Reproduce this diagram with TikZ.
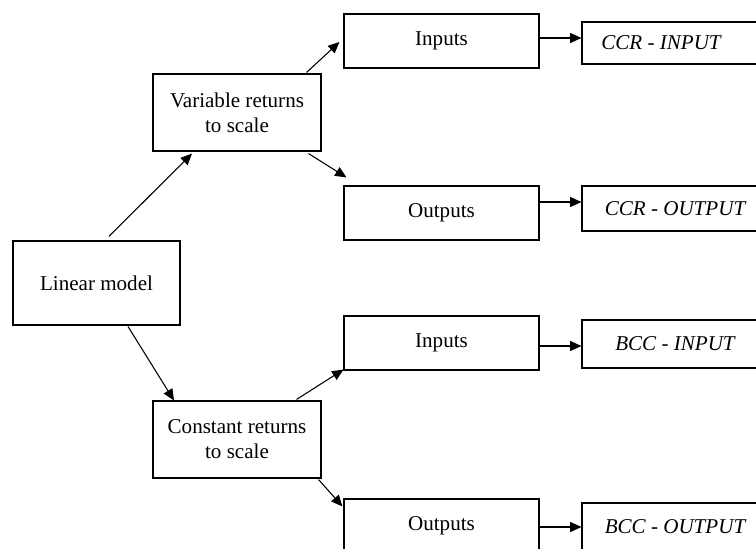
\documentclass[tikz,border=0pt]{standalone}
\usepackage{fontspec}
\setmainfont{Liberation Serif}
\usetikzlibrary{positioning, shapes, arrows.meta}

\begin{document}
\begin{tikzpicture}[x=0.75pt, y=-0.75pt, line width=0.8pt,
  box/.style={draw, align=center, inner sep=2pt, font=\fontsize{15.8}{18.8}\selectfont},
  model/.style={box, minimum width=125.25pt, minimum height=63pt},
  scalebox/.style={box, minimum width=126pt, minimum height=57.75pt},
  side/.style={box, minimum width=146.25pt, minimum height=40.5pt},
  result/.style={box, minimum width=139.5pt, font=\fontsize{15.8}{18.8}\selectfont\itshape},
  arr/.style={-{Triangle[length=8.5pt, width=7.5pt]}}]
\useasboundingbox (0,0) rectangle (756,549);
\clip (0,0) rectangle (756,549);

\node[model] (lin) at (96.5, 283) {Linear model};
\node[scalebox] (vrs) at (237, 112.5) {Variable returns\\to scale};
\node[scalebox] (crs) at (237, 439.5) {Constant returns\\to scale};

\node[side] (in1) at (441.5, 41) {Inputs};
\node[side] (out1) at (441.5, 213) {Outputs};
\node[side] (in2) at (441.5, 343) {Inputs};
\node[side] (out2) at (441.5, 526) {Outputs};

\node[result, minimum height=31.5pt] (ccrin) at (675, 43) {\hspace*{-21pt}CCR - INPUT};
\node[result, minimum height=33.75pt] (ccrout) at (675, 208.5) {CCR - OUTPUT};
\node[result, minimum height=36pt] (bccin) at (675, 344) {BCC - INPUT};
\node[result, minimum height=36pt] (bccout) at (675, 527) {BCC - OUTPUT};

% model to the two kinds of returns
\draw[arr] ([shift={(12.5,-4)}]lin.north) -- ([shift={(-45,2)}]vrs.south);
\draw[arr] ([shift={(31.5,1)}]lin.south) -- ([shift={(-63,0)}]crs.north);

\draw[arr] ([shift={(-15,-1)}]vrs.north east) -- ([shift={(-4,1)}]in1.west);
\draw[arr] ([shift={(-13,2)}]vrs.south east) -- ([shift={(3,-8)}]out1.north west);
\draw[arr] ([shift={(-25,-1)}]crs.north east) -- ([shift={(0,-1)}]in2.south west);
\draw[arr] ([shift={(-3,1)}]crs.south east) -- ([shift={(-1,8)}]out2.north west);

\draw[arr] ([yshift=2.25pt]in1.east) -- ([yshift=3.75pt]ccrin.west);
\draw[arr] ([yshift=8.25pt]out1.east) -- ([yshift=4.875pt]ccrout.west);
\draw[arr] ([yshift=-2.25pt]in2.east) -- ([yshift=-1.5pt]bccin.west);
\draw[arr] ([yshift=-0.75pt]out2.east) -- (bccout.west);
\end{tikzpicture}
\end{document}
